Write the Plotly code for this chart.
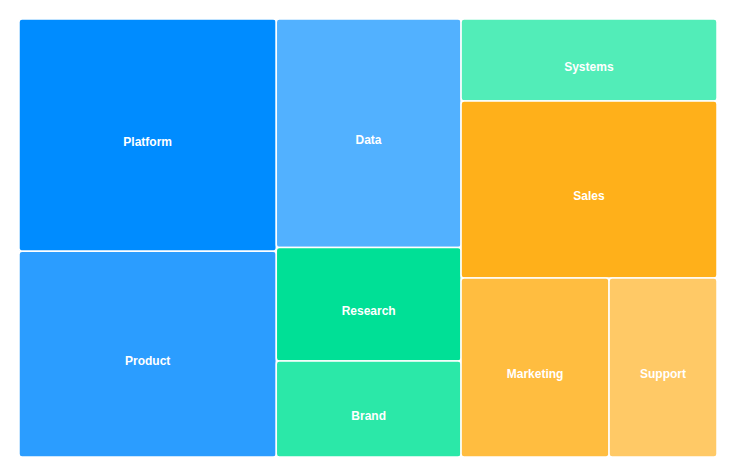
import plotly.graph_objects as go

# tiles in data order (order matters for the squarified layout)
labels = ["Platform", "Product", "Data", "Research", "Brand",
          "Systems", "Sales", "Marketing", "Support"]
values = [600, 532, 424, 211, 178, 211, 455, 266, 194]
colors = ["#008cff", "#2b9dff", "#52b1ff",
          "#00e096", "#2be8a8", "#52edb8",
          "#ffb01a", "#ffbd40", "#ffc966"]

fig = go.Figure(go.Treemap(
    labels=labels,
    parents=[""] * len(labels),
    values=values,
    sort=False,
    tiling=dict(packing="squarify", squarifyratio=1, pad=0),
    marker=dict(colors=colors, line=dict(color="white", width=1.5), cornerradius=3,
                pad=dict(t=0, l=0, r=0, b=0)),
    textposition="middle center",
    # blank first line pushes the label a little below the centre
    texttemplate="&nbsp;<br><span style='font-size:12px'><b>%{label}</b></span>",
    textfont=dict(family="Liberation Sans, Arial, sans-serif", size=11, color="white"),
    pathbar=dict(visible=False),
    hoverinfo="label+value",
))

# page body adds 8px, so margins are a bit smaller on the top/left
fig.update_layout(
    width=736, height=475,
    margin=dict(l=11, r=27, t=11, b=26),
    paper_bgcolor="white",
)

fig.write_html("out.html")
